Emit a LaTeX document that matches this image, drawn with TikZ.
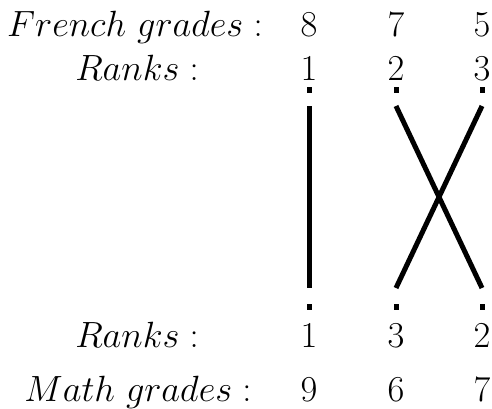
\documentclass[tikz,border=0pt]{standalone}
\usepackage{fix-cm}
\begin{document}
\begin{tikzpicture}[x=1pt,y=-1pt,
  lab/.style={anchor=base,inner sep=0pt,font=\fontsize{36.5}{44}\selectfont},
  tick/.style={fill=black,minimum width=5pt,minimum height=6pt,inner sep=0pt},
  link/.style={line width=5pt}]
\useasboundingbox (0,0) rectangle (492,408);
% labels
\node[lab] (fg) at (135,36) {$French\ grades:$};
\node[lab] (rt) at (137,80) {$Ranks:$};
\node[lab] (rb) at (137,347) {$Ranks:$};
\node[lab] (mg) at (138,401) {$Math\ grades:$};
% french grades
\node[lab] (f1) at (309,36) {$8$};
\node[lab] (f2) at (396,36) {$7$};
\node[lab] (f3) at (482,36) {$5$};
% top ranks
\node[lab] (a1) at (309,80) {$1$};
\node[lab] (a2) at (396,80) {$2$};
\node[lab] (a3) at (482,80) {$3$};
% bottom ranks
\node[lab] (c1) at (309,347) {$1$};
\node[lab] (c2) at (396,347) {$3$};
\node[lab] (c3) at (482,347) {$2$};
% math grades
\node[lab] (m1) at (309,401) {$9$};
\node[lab] (m2) at (396,401) {$6$};
\node[lab] (m3) at (482,401) {$7$};
% ticks
\node[tick] (t1) at (309,90) {};
\node[tick] (t2) at (396,90) {};
\node[tick] (t3) at (482,90) {};
\node[tick] (b1) at (309,307) {};
\node[tick] (b2) at (396,307) {};
\node[tick] (b3) at (482,307) {};
% line ends
\coordinate (p1) at (309,106);
\coordinate (p2) at (396,106);
\coordinate (p3) at (482,106);
\coordinate (q1) at (309,288);
\coordinate (q2) at (396,288);
\coordinate (q3) at (482,288);
\draw[link] (p1) -- (q1);
\draw[link] (p2) -- (q3);
\draw[link] (p3) -- (q2);
\end{tikzpicture}
\end{document}
